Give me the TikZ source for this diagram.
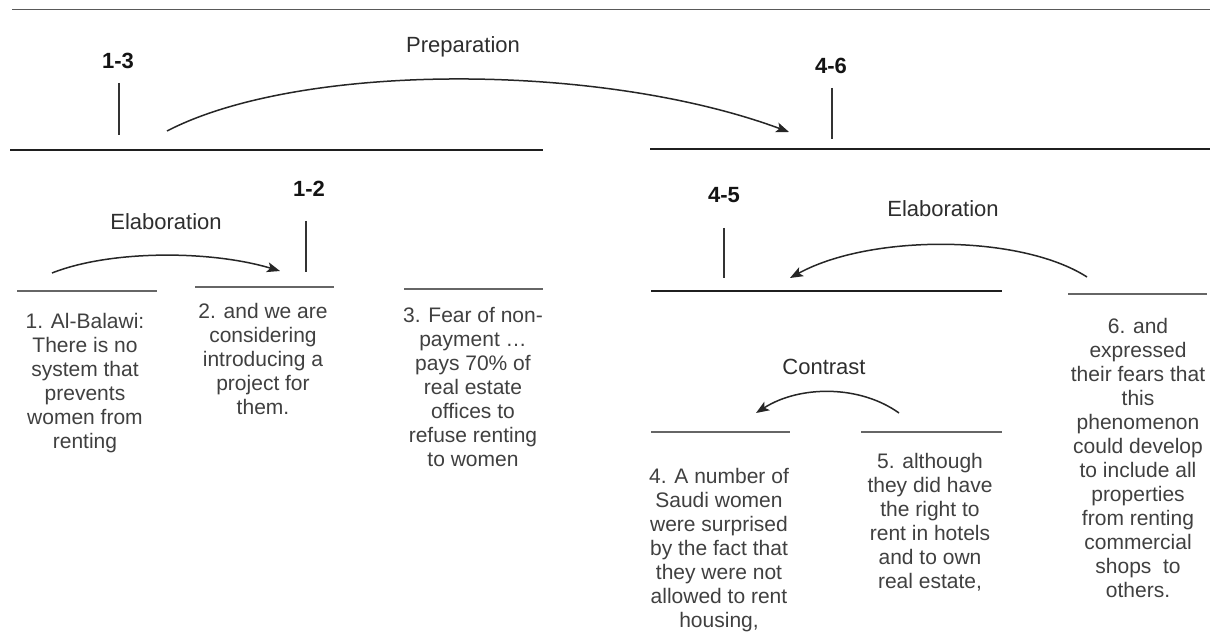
\documentclass[tikz,border=0pt]{standalone}
\usepackage{fontspec}
\setmainfont{Liberation Sans}
\usetikzlibrary{arrows.meta}
\begin{document}
\begin{tikzpicture}[x=1pt,y=-1pt,
  frame/.style={draw=black!65, line width=1pt},
  seg/.style={draw=black!60, line width=2.4pt},
  span/.style={draw=black!88, line width=1.8pt},
  tick/.style={draw=black!80, line width=1.4pt},
  rel/.style={draw=black!85, line width=1.5pt, -{Stealth[length=13pt,width=10pt,inset=3pt]}},
  edu/.style={text=black!75, font=\fontsize{21}{24}\selectfont, align=center, anchor=north, inner sep=0pt},
  rlabel/.style={text=black!82, font=\fontsize{22}{26}\selectfont, inner sep=0pt},
  spanlabel/.style={text=black!92, font=\fontsize{22}{26}\selectfont\bfseries, inner sep=0pt},
]
\useasboundingbox (0,0) rectangle (1222,636);
\fill[white] (0,0) rectangle (1222,636);

% top rule
\coordinate (topL) at (12,10);
\coordinate (topR) at (1210,10);
\draw[frame] (topL) -- (topR);

% ---- span 1-3 ----
\coordinate (s13a) at (10,150);
\coordinate (s13b) at (543,150);
\draw[span] (s13a) -- (s13b);
\node[spanlabel] (l13) at (118,61) {1-3};
\coordinate (t13a) at (119,83);
\coordinate (t13b) at (119,135);
\draw[tick] (t13a) -- (t13b);

% ---- span 4-6 ----
\coordinate (s46a) at (650,149);
\coordinate (s46b) at (1210,149);
\draw[span] (s46a) -- (s46b);
\node[spanlabel] (l46) at (831,66) {4-6};
\coordinate (t46a) at (832,88);
\coordinate (t46b) at (832,139);
\draw[tick] (t46a) -- (t46b);

% Preparation relation
\node[rlabel] (prep) at (463,47) {Preparation};
\coordinate (prepS) at (167,131);
\coordinate (prepE) at (789,132);
\draw[rel] (prepS) .. controls (300,62) and (600,62) .. (prepE);

% ---- span 1-2 ----
\node[spanlabel] (l12) at (309,189) {1-2};
\coordinate (t12a) at (306,221);
\coordinate (t12b) at (306,272);
\draw[tick] (t12a) -- (t12b);
\node[rlabel] (elabL) at (166,222) {Elaboration};
\coordinate (elLS) at (52,273);
\coordinate (elLE) at (280,271);
\draw[rel] (elLS) .. controls (110,250) and (210,250) .. (elLE);

% segments 1, 2, 3
\coordinate (s1a) at (17,291);
\coordinate (s1b) at (157,291);
\draw[seg] (s1a) -- (s1b);
\coordinate (s2a) at (195,287);
\coordinate (s2b) at (334,287);
\draw[seg] (s2a) -- (s2b);
\coordinate (s3a) at (404,289);
\coordinate (s3b) at (543,289);
\draw[seg] (s3a) -- (s3b);

\node[edu] (e1) at (85,313) {1. Al-Balawi:\\There is no\\system that\\prevents\\women from\\renting};
\node[edu] (e2) at (263,303) {2. and we are\\considering\\introducing a\\project for\\them.};
\node[edu] (e3) at (473,307) {3. Fear of non-\\payment \dots\\pays 70\% of\\real estate\\offices to\\refuse renting\\to women};

% ---- span 4-5 ----
\node[spanlabel] (l45) at (724,195) {4-5};
\coordinate (t45a) at (724,228);
\coordinate (t45b) at (724,278);
\draw[tick] (t45a) -- (t45b);
\coordinate (s45a) at (651,291);
\coordinate (s45b) at (1002,291);
\draw[span] (s45a) -- (s45b);

\node[rlabel] (elabR) at (943,209) {Elaboration};
\coordinate (elRS) at (1087,277);
\coordinate (elRE) at (790,278);
\draw[rel] (elRS) .. controls (1020,234) and (870,234) .. (elRE);

% segment 6
\coordinate (s6a) at (1068,294);
\coordinate (s6b) at (1207,294);
\draw[seg] (s6a) -- (s6b);
\node[edu] (e6) at (1138,318) {6. and\\expressed\\their fears that\\this\\phenomenon\\could develop\\to include all\\properties\\from renting\\commercial\\shops\ \ to\\others.};

% Contrast relation
\node[rlabel] (contr) at (824,367) {Contrast};
\coordinate (coS) at (899,413);
\coordinate (coE) at (756,413);
\draw[rel] (coS) .. controls (860,385) and (800,385) .. (coE);

% segments 4, 5
\coordinate (s4a) at (651,432);
\coordinate (s4b) at (790,432);
\draw[seg] (s4a) -- (s4b);
\coordinate (s5a) at (861,432);
\coordinate (s5b) at (1002,432);
\draw[seg] (s5a) -- (s5b);

\node[edu] (e4) at (719,468) {4. A number of\\Saudi women\\were surprised\\by the fact that\\they were not\\allowed to rent\\housing,};
\node[edu] (e5) at (930,453) {5. although\\they did have\\the right to\\rent in hotels\\and to own\\real estate,};
\end{tikzpicture}
\end{document}
